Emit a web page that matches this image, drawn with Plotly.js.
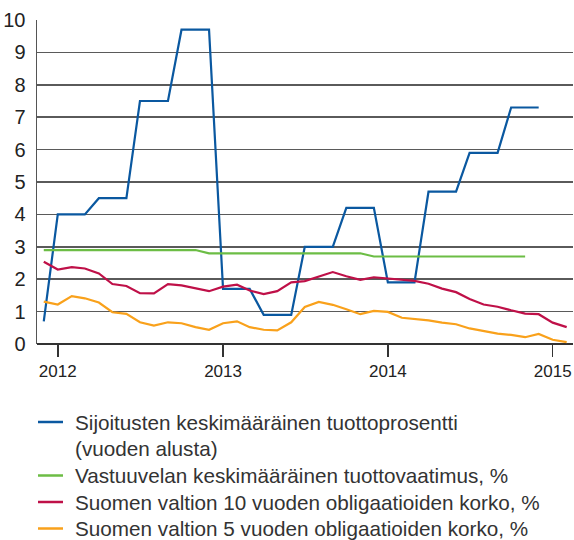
<!DOCTYPE html>
<html>
<head>
<meta charset="utf-8">
<script src="https://cdn.plot.ly/plotly-3.0.1.min.js"></script>
<style>html,body{margin:0;padding:0;background:#fff;}#chart{width:574px;height:540px;}</style>
</head>
<body>
<div id="chart"></div>
<script>
var months = ["2011-12-01","2012-01-01","2012-02-01","2012-03-01","2012-04-01","2012-05-01","2012-06-01","2012-07-01","2012-08-01","2012-09-01","2012-10-01","2012-11-01","2012-12-01",
"2013-01-01","2013-02-01","2013-03-01","2013-04-01","2013-05-01","2013-06-01","2013-07-01","2013-08-01","2013-09-01","2013-10-01","2013-11-01","2013-12-01",
"2014-01-01","2014-02-01","2014-03-01","2014-04-01","2014-05-01","2014-06-01","2014-07-01","2014-08-01","2014-09-01","2014-10-01","2014-11-01","2014-12-01",
"2015-01-01","2015-02-01"];

var sijoitukset = [0.7,4.0,4.0,4.0,4.5,4.5,4.5,7.5,7.5,7.5,9.7,9.7,9.7,
1.7,1.7,1.7,0.9,0.9,0.9,3.0,3.0,3.0,4.2,4.2,4.2,
1.9,1.9,1.9,4.7,4.7,4.7,5.9,5.9,5.9,7.3,7.3,7.3];

var vastuuvelka = [2.9,2.9,2.9,2.9,2.9,2.9,2.9,2.9,2.9,2.9,2.9,2.9,2.8,
2.8,2.8,2.8,2.8,2.8,2.8,2.8,2.8,2.8,2.8,2.8,2.7,
2.7,2.7,2.7,2.7,2.7,2.7,2.7,2.7,2.7,2.7,2.7];

var korko10 = [2.54,2.30,2.37,2.33,2.18,1.85,1.79,1.57,1.56,1.85,1.81,1.71,1.63,
1.77,1.83,1.65,1.54,1.63,1.90,1.94,2.09,2.22,2.09,1.98,2.06,
2.02,1.97,1.95,1.86,1.71,1.60,1.39,1.22,1.15,1.04,0.94,0.92,
0.66,0.52];

var korko5 = [1.31,1.22,1.48,1.41,1.28,0.98,0.93,0.67,0.57,0.67,0.64,0.52,0.44,
0.64,0.70,0.52,0.44,0.42,0.67,1.14,1.30,1.21,1.07,0.92,1.02,
0.99,0.81,0.78,0.73,0.66,0.61,0.48,0.40,0.32,0.28,0.21,0.31,
0.13,0.06];

var names = ["Sijoitusten keskimääräinen tuottoprosentti<br>(vuoden alusta)",
"Vastuuvelan keskimääräinen tuottovaatimus, %",
"Suomen valtion 10 vuoden obligaatioiden korko, %",
"Suomen valtion 5 vuoden obligaatioiden korko, %"];
var colors = ["#0a58a0", "#6cbd45", "#bf1048", "#f9a11b"];

var yTicks = [0,1,2,3,4,5,6,7,8,9,10];
var xTicks = ["2012-01-01","2013-01-01","2014-01-01","2015-01-01"];
var xTickLabels = ["2012","2013","2014","2015"];

var FONT = "'Liberation Sans', Arial, Helvetica, sans-serif";

var series = [sijoitukset, vastuuvelka, korko10, korko5];
var traces = series.map(function (s, i) {
  return {x: months.slice(0, s.length), y: s, name: names[i], mode: "lines",
          line: {color: colors[i], width: 2.2}, showlegend: false};
});

// Legend drawn below the plot (paper coordinates; plot area is 536 x 324 px)
var PL = 37, PW = 536, PB = 344, PH = 324;
function px2x(p) { return (p - PL) / PW; }
function px2y(p) { return (PB - p) / PH; }
var legendRows = [422, 475.5, 502, 528.5];  // line-sample centres for each entry
var annotations = [], shapes = [];
names.forEach(function (n, i) {
  var parts = n.split("<br>");
  parts.forEach(function (t, j) {
    annotations.push({xref: "paper", yref: "paper", x: px2x(74), y: px2y(legendRows[i] + j * 26.7),
      xanchor: "left", yanchor: "middle", text: t, showarrow: false, borderpad: 0,
      font: {size: 20.7, family: FONT, color: "#333"}});
  });
  shapes.push({type: "line", xref: "paper", yref: "paper", x0: px2x(38), x1: px2x(63),
    y0: px2y(legendRows[i]), y1: px2y(legendRows[i]), line: {color: colors[i], width: 2.5}});
});

var layout = {
 width: 574, height: 540,
 margin: {l: 37, r: 1, t: 20, b: 196, autoexpand: false},
 paper_bgcolor: "#fff", plot_bgcolor: "#fff",
 font: {family: FONT, color: "#222"},
 showlegend: false,
 annotations: annotations,
 shapes: shapes,
 xaxis: {
  type: "date", range: ["2011-11-16", "2015-02-15"],
  tickvals: xTicks, ticktext: xTickLabels,
  ticks: "outside", ticklen: 12, tickwidth: 1.5, tickcolor: "#333",
  showgrid: false, zeroline: false,
  showline: false,
  tickfont: {size: 17, family: FONT, color: "#222"}
 },
 yaxis: {
  range: [0, 10], tickvals: yTicks,
  showgrid: true, gridcolor: "#5a5a5a", gridwidth: 1.5,
  zeroline: true, zerolinecolor: "#333", zerolinewidth: 2,
  showline: true, linecolor: "#555", linewidth: 1.5,
  ticks: "", ticklabelstandoff: 6,
  tickfont: {size: 20, family: FONT, color: "#222"}
 }
};

Plotly.newPlot("chart", traces, layout, {displayModeBar: false, staticPlot: true});
</script>
</body>
</html>
